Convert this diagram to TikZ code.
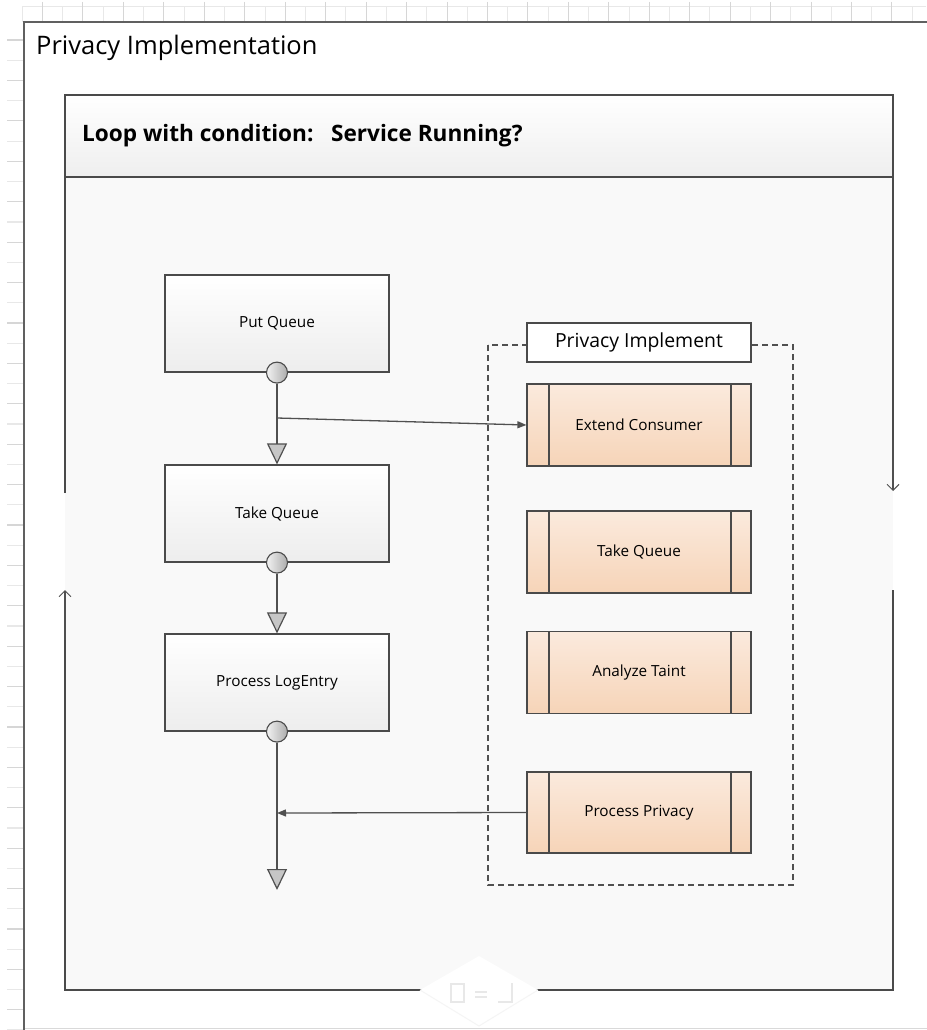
\documentclass[tikz,border=0pt]{standalone}
\usepackage{fontspec}
\setmainfont{Open Sans}
\usetikzlibrary{arrows.meta}
\definecolor{linec}{HTML}{505050}
\definecolor{boxc}{HTML}{4A4A4A}
\definecolor{or1}{HTML}{FBEADD}
\definecolor{or2}{HTML}{F6D4B8}
\definecolor{loopfill}{HTML}{F9F9F9}
\definecolor{rulerA}{HTML}{D6D6D6}
\definecolor{rulerB}{HTML}{E8E8E8}
\tikzset{
  conn/.style={draw=linec, line width=1.3pt},
  tri/.style={conn, -{Triangle[width=20pt,length=21pt,fill=gray!45,line width=1.2pt]}},
  small/.style={conn, -{Triangle[width=7pt,length=9pt]}},
  loopar/.style={draw=linec, line width=1.4pt, -{Straight Barb[width=12pt,length=6pt,line width=1pt]}},
  stepbox/.style={draw=boxc, line width=1.2pt, top color=white, bottom color=gray!14,
    minimum width=224pt, minimum height=97pt, inner sep=0pt, font=\fontsize{15.3}{18}\selectfont},
  actbox/.style={draw=boxc, line width=1.2pt, top color=or1, bottom color=or2,
    minimum width=224pt, minimum height=82pt, inner sep=0pt, font=\fontsize{15.3}{18}\selectfont,
    path picture={
      \draw[boxc, line width=1.2pt] ([xshift=22pt]path picture bounding box.north west) -- ([xshift=22pt]path picture bounding box.south west);
      \draw[boxc, line width=1.2pt] ([xshift=-20pt]path picture bounding box.north east) -- ([xshift=-20pt]path picture bounding box.south east);
    }},
  knob/.style={circle, draw=boxc, line width=1.1pt, minimum size=21pt, inner sep=0pt,
    left color=gray!10, right color=gray!65},
}
\begin{document}
\begin{tikzpicture}[x=1pt,y=-1pt]
\useasboundingbox (0,0) rectangle (926,1030);
\fill[white] (0,0) rectangle (926,1030);
% rulers
\draw[rulerB, line width=1pt] (22,7) -- (926,7);
\foreach \i in {0,...,44} {
  \draw[rulerB, line width=1pt] ({22.3+40.45*\i},7) -- ({22.3+40.45*\i},22);
  \draw[rulerA, line width=1pt] ({42.5+40.45*\i},2) -- ({42.5+40.45*\i},22);
}
\foreach \i in {0,...,25} {
  \draw[rulerA, line width=1.2pt] (7,{40.1+40.4*\i}) -- (24,{40.1+40.4*\i});
  \draw[rulerB, line width=1.2pt] (7,{60.3+40.4*\i}) -- (24,{60.3+40.4*\i});
}
% outer frame
\draw[gray!30, line width=1pt] (24,1028) -- (930,1028);
\draw[gray!75!black, line width=1.5pt] (24,1032) -- (24,22) -- (930,22);
\node[anchor=west, font=\fontsize{25.5}{30}\selectfont, inner sep=0pt] (title) at (36,48) {Privacy Implementation};
% loop frame
\fill[loopfill] (65,177) rectangle (893,990);
\shade[top color=white, bottom color=gray!13] (65,95) rectangle (893,177);
\draw[boxc, line width=1.3pt] (65,177) -- (893,177);
\draw[boxc, line width=1.5pt] (65,493) -- (65,95) -- (893,95) -- (893,440);
\draw[loopar] (893,440) -- (893,491);
\draw[boxc, line width=1.5pt] (893,590) -- (893,990) -- (65,990) -- (65,640);
\draw[loopar] (65,640) -- (65,590);
\node[anchor=west, font=\bfseries\fontsize{22.6}{26}\selectfont, inner sep=0pt] (hdr) at (82,136) {Loop with condition:\ \ \ Service Running?};
% diamond
\fill[white] (420,990) -- (479,956) -- (538,990) -- (479,1026) -- cycle;
\draw[gray!8, line width=1pt] (420,990) -- (479,1026) -- (538,990);
\draw[gray!18, line width=1.6pt] (451,984) rectangle (464,1002);
\draw[gray!18, line width=1.6pt] (475,992) -- (487,992) (475,997) -- (487,997);
\draw[gray!18, line width=1.6pt] (512,983) -- (512,1002) -- (498,1002);
% dashed group
\draw[linec, line width=1.4pt, dash pattern=on 6pt off 4pt] (488,345) rectangle (793,885);
\node[draw=boxc, fill=white, line width=1.2pt, minimum width=224pt, minimum height=39pt, inner sep=0pt,
  font=\fontsize{19.4}{22}\selectfont] (pi) at (639,342.5) {Privacy Implement};
% left flow
\node[stepbox] (pq) at (277,323.5) {Put Queue};
\node[stepbox] (tq) at (277,513.5) {Take Queue};
\node[stepbox] (pl) at (277,682.5) {Process LogEntry};
\node[knob] (c1) at (pq.south) {};
\node[knob] (c2) at (tq.south) {};
\node[knob] (c3) at (pl.south) {};
\coordinate (b1) at (277,418);
\coordinate (b2) at (277,813);
\coordinate (fin) at (277,890);
% right activities
\node[actbox] (ec) at (639,425) {Extend Consumer};
\node[actbox] (tq2) at (639,552) {Take Queue};
\node[actbox] (at) at (639,672.5) {Analyze Taint};
\node[actbox, minimum height=81pt] (pp) at (639,812.5) {Process Privacy};
% connectors
\draw[tri] (c1.south) -- (tq.north);
\draw[tri] (c2.south) -- (pl.north);
\draw[tri] (c3.south) -- (fin);
\draw[small] (b1) -- (ec.west);
\draw[small] (pp.west) -- (b2);
\end{tikzpicture}
\end{document}
